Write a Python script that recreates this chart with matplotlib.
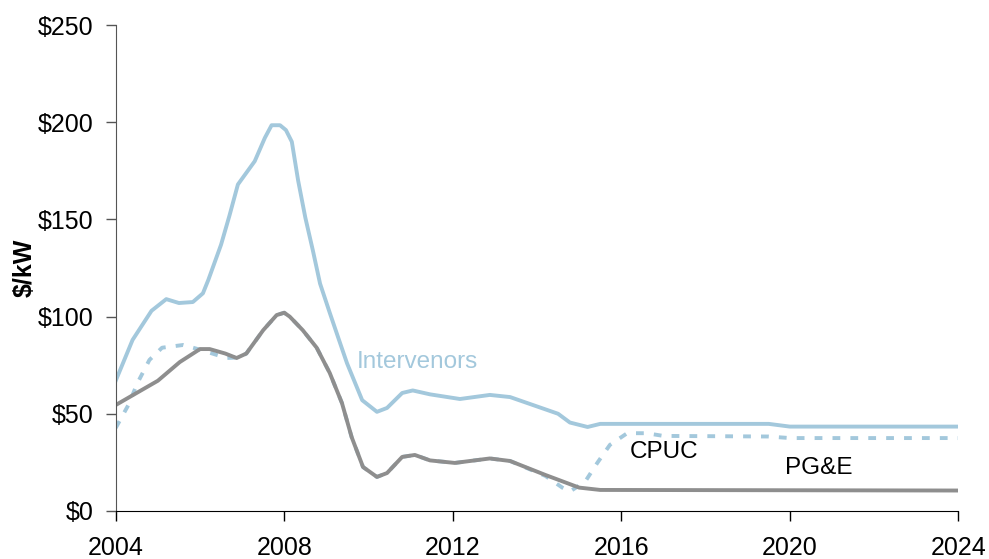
import matplotlib
matplotlib.use("Agg")
import matplotlib.pyplot as plt

plt.rcParams['font.family'] = ['Liberation Sans', 'DejaVu Sans']

# Intervenors (solid light blue)
int_years = [2004.0, 2004.4, 2004.85, 2005.2, 2005.5, 2005.83, 2006.07, 2006.2, 2006.35,
             2006.5, 2006.7, 2006.9, 2007.3, 2007.54, 2007.7, 2007.9, 2008.04, 2008.18,
             2008.33, 2008.5, 2008.68, 2008.85, 2009.08, 2009.3, 2009.49, 2009.85, 2010.2,
             2010.44, 2010.8, 2011.05, 2011.46, 2012.17, 2012.88, 2013.36, 2014.5, 2014.78,
             2015.2, 2015.5, 2019.5, 2020.0, 2024.0]
int_vals = [67, 88, 103, 109, 107, 107.5, 112, 119, 128,
            137, 152, 168, 180, 192, 198.5, 198.5, 196, 190,
            170, 151, 134, 117, 102, 88, 76, 57, 51,
            53, 60.7, 62, 60, 57.6, 59.7, 58.6, 50, 45.5,
            43.2, 44.8, 44.8, 43.4, 43.4]

# PG&E (solid gray)
pge_years = [2004.0, 2005.0, 2005.52, 2006.0, 2006.23, 2006.6, 2006.87, 2007.1, 2007.5,
             2007.82, 2008.0, 2008.13, 2008.44, 2008.77, 2009.08, 2009.37, 2009.6, 2009.87,
             2010.2, 2010.44, 2010.8, 2011.1, 2011.46, 2012.05, 2012.88, 2013.36, 2014.2,
             2015.0, 2015.5, 2024.0]
pge_vals = [54.5, 67, 76.6, 83.3, 83.3, 81, 78.7, 81, 93,
            100.8, 102, 100, 93, 84, 71, 55.5, 38, 22.6,
            17.5, 19.5, 27.8, 28.8, 26, 24.7, 27, 25.7, 18.5,
            12, 10.8, 10.5]

# CPUC (dashed light blue)
cpuc_years = [2004.0, 2004.3, 2004.52, 2004.8, 2005.1, 2005.6, 2006.0, 2006.63, 2006.95,
              2007.1, 2007.5, 2007.82, 2008.0, 2008.13, 2008.44, 2008.77, 2009.08, 2009.37,
              2009.6, 2009.87, 2010.2, 2010.44, 2010.8, 2011.1, 2011.46, 2012.05, 2012.88,
              2013.36, 2014.2, 2014.6, 2014.78, 2015.14, 2015.43, 2015.73, 2016.14, 2016.6,
              2017.0, 2019.5, 2020.0, 2024.0]
cpuc_vals = [42.7, 54.5, 66, 77.7, 84, 85.4, 83, 78.7, 79,
             81, 93, 100.8, 102, 100, 93, 84, 71, 55.5,
             38, 22.6, 17.5, 19.5, 27.8, 28.8, 26, 24.7, 27,
             25.7, 18, 12, 10, 15, 24.7, 34, 40, 40,
             38.6, 38.3, 37.5, 37.5]

light_blue = '#a3c8dc'
gray = '#8e8e8e'

fig = plt.figure(figsize=(9.89, 5.59), dpi=100)
ax = fig.add_axes([0.117, 0.086, 0.852, 0.869])

ax.plot(cpuc_years, cpuc_vals, color=light_blue, lw=2.8, ls=(0, (2.0, 2.6)))
ax.plot(int_years, int_vals, color=light_blue, lw=2.8)
ax.plot(pge_years, pge_vals, color=gray, lw=2.8)

ax.text(2009.72, 76.6, 'Intervenors', color=light_blue, fontsize=17.5, va='center')
ax.text(2016.21, 30.3, 'CPUC', color='black', fontsize=17.5, va='center')
ax.text(2019.89, 22.1, 'PG&E', color='black', fontsize=17.5, va='center')

ax.set_xlim(2004, 2024)
ax.set_ylim(0, 250)
ax.set_xticks([2004, 2008, 2012, 2016, 2020, 2024])
ax.set_yticks([0, 50, 100, 150, 200, 250])
ax.set_yticklabels(['$0', '$50', '$100', '$150', '$200', '$250'])
ax.tick_params(labelsize=18, direction='out', length=7, width=1)
ax.tick_params(axis='x', pad=11, colors='black')
ax.tick_params(axis='y', pad=9, color='#555555', labelcolor='black')
ax.set_ylabel('$/kW', fontsize=18, fontweight='bold', labelpad=0.5)

for s in ['top', 'right']:
    ax.spines[s].set_visible(False)
ax.spines['left'].set_color('#555555')
ax.spines['bottom'].set_color('black')

fig.savefig('out.png', dpi=100)
